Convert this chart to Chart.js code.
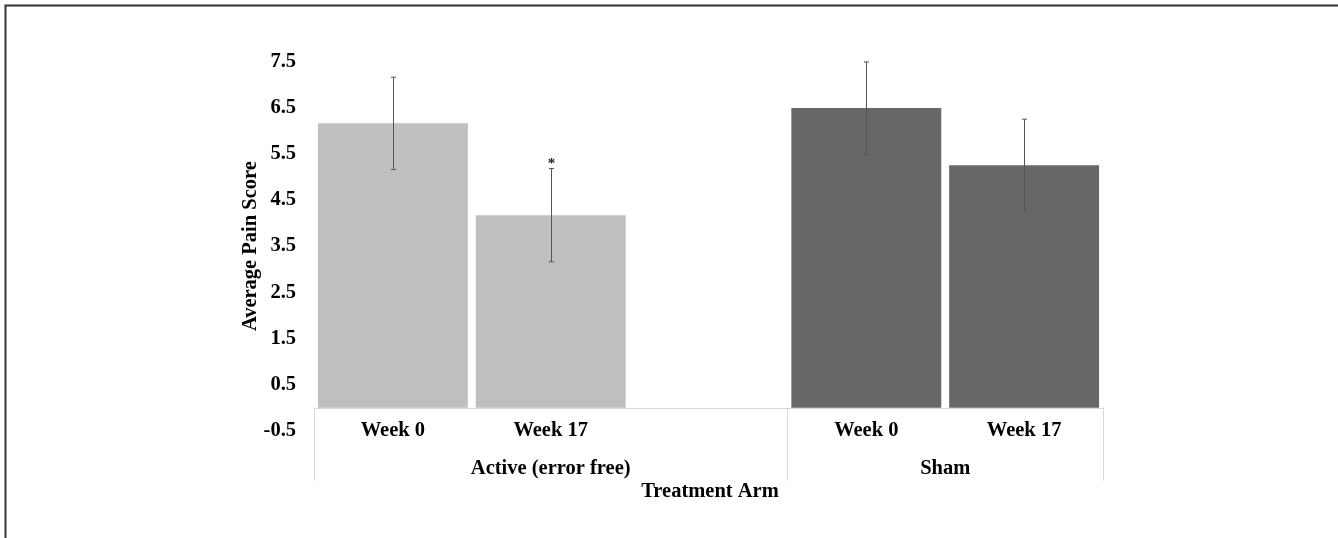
<!DOCTYPE html>
<html>
<head>
<meta charset="utf-8">
<script src="https://cdn.jsdelivr.net/npm/chart.js@4"></script>
<style>
  html, body { margin: 0; padding: 0; background: #fff; }
  canvas { display: block; }
</style>
</head>
<body>
<canvas id="chart" width="1338" height="538"></canvas>
<script>
// data
const categories = ['Week 0', 'Week 17', '', 'Week 0', 'Week 17'];
const groupLabels = ['Active (error free)', 'Sham'];
const groupRanges = [[0, 2], [3, 4]];
const meanScores = [6.16, 4.17, null, 6.49, 5.25];
const errorSizes = [1.0, 1.01, null, 1.0, 1.0];
const starred = [false, true, false, false, false];
const yTicks = [-0.5, 0.5, 1.5, 2.5, 3.5, 4.5, 5.5, 6.5, 7.5];
const barColors = ['#bfbfbf', '#bfbfbf', '#bfbfbf', '#676767', '#676767'];

const FONT = 'Liberation Serif';

// error bars, asterisk, category axis and frame
const extrasPlugin = {
  id: 'extras',
  afterDatasetsDraw(chart) {
    const { ctx, scales: { x, y } } = chart;
    ctx.save();
    ctx.strokeStyle = '#555';
    ctx.lineWidth = 1;
    meanScores.forEach((v, i) => {
      if (v === null) return;
      const px = Math.round(x.getPixelForValue(i)) + 0.5;
      const top = y.getPixelForValue(v + errorSizes[i]);
      const bot = y.getPixelForValue(v - errorSizes[i]);
      ctx.beginPath();
      ctx.moveTo(px, top); ctx.lineTo(px, bot);
      ctx.moveTo(px - 2.5, top); ctx.lineTo(px + 2.5, top);
      ctx.moveTo(px - 2.5, bot); ctx.lineTo(px + 2.5, bot);
      ctx.stroke();
      if (starred[i]) {
        ctx.fillStyle = '#222';
        ctx.font = 'bold 15px ' + FONT;
        ctx.textAlign = 'center';
        ctx.textBaseline = 'alphabetic';
        ctx.fillText('*', px, top - 1);
      }
    });
    ctx.restore();
  },
  afterDraw(chart) {
    const { ctx, scales: { x, y }, chartArea } = chart;
    const half = (x.getPixelForValue(1) - x.getPixelForValue(0)) / 2;
    const zeroY = y.getPixelForValue(0);
    const lineBottom = zeroY + 73;
    ctx.save();
    // horizontal axis line and group dividers
    ctx.strokeStyle = '#d9d9d9';
    ctx.lineWidth = 1;
    ctx.beginPath();
    ctx.moveTo(chartArea.left, Math.round(zeroY) + 0.5);
    ctx.lineTo(chartArea.right, Math.round(zeroY) + 0.5);
    const edges = [x.getPixelForValue(0) - half];
    groupRanges.forEach(r => edges.push(x.getPixelForValue(r[1]) + half));
    edges.forEach(ex => {
      const px = Math.round(ex) + 0.5;
      ctx.moveTo(px, zeroY); ctx.lineTo(px, lineBottom);
    });
    ctx.stroke();

    ctx.fillStyle = '#000';
    ctx.font = 'bold 20.5px ' + FONT;
    ctx.textAlign = 'center';
    ctx.textBaseline = 'middle';
    categories.forEach((c, i) => {
      if (c) ctx.fillText(c, x.getPixelForValue(i), zeroY + 23.5);
    });
    groupRanges.forEach((r, g) => {
      const cx = (x.getPixelForValue(r[0]) + x.getPixelForValue(r[1])) / 2;
      ctx.fillText(groupLabels[g], cx, zeroY + 61);
    });
    ctx.fillText('Treatment Arm', (chartArea.left + chartArea.right) / 2 + 1.5, zeroY + 84);

    // outer frame (top and left edges visible)
    ctx.strokeStyle = '#333';
    ctx.lineWidth = 2;
    ctx.beginPath();
    ctx.moveTo(5.5, chart.height + 2);
    ctx.lineTo(5.5, 5.5);
    ctx.lineTo(chart.width + 2, 5.5);
    ctx.stroke();
    ctx.restore();
  }
};

new Chart(document.getElementById('chart'), {
  type: 'bar',
  data: {
    labels: categories,
    datasets: [{
      data: meanScores,
      backgroundColor: barColors,
      borderWidth: 0,
      categoryPercentage: 1.0,
      barPercentage: 0.95,
    }],
  },
  options: {
    responsive: false,
    animation: false,
    layout: { padding: { left: 230, right: 235, top: 61.5, bottom: 107.3 } },
    plugins: {
      legend: { display: false },
      tooltip: { enabled: false },
    },
    scales: {
      x: { display: false },
      y: {
        min: -0.5,
        max: 7.5,
        afterBuildTicks: (scale) => { scale.ticks = yTicks.map(v => ({ value: v })); },
        afterFit: (scale) => { scale.width = 84; },
        grid: { display: false, drawTicks: false },
        border: { display: false },
        ticks: {
          padding: 18,
          color: '#000',
          font: { family: FONT, size: 20.5, weight: 'bold' },
          callback: (v) => Number(v).toFixed(1),
        },
        title: {
          display: true,
          text: 'Average Pain Score',
          color: '#000',
          padding: { top: 8, bottom: 0 },
          font: { family: FONT, size: 20.5, weight: 'bold' },
        },
      },
    },
  },
  plugins: [extrasPlugin],
});
</script>
</body>
</html>
